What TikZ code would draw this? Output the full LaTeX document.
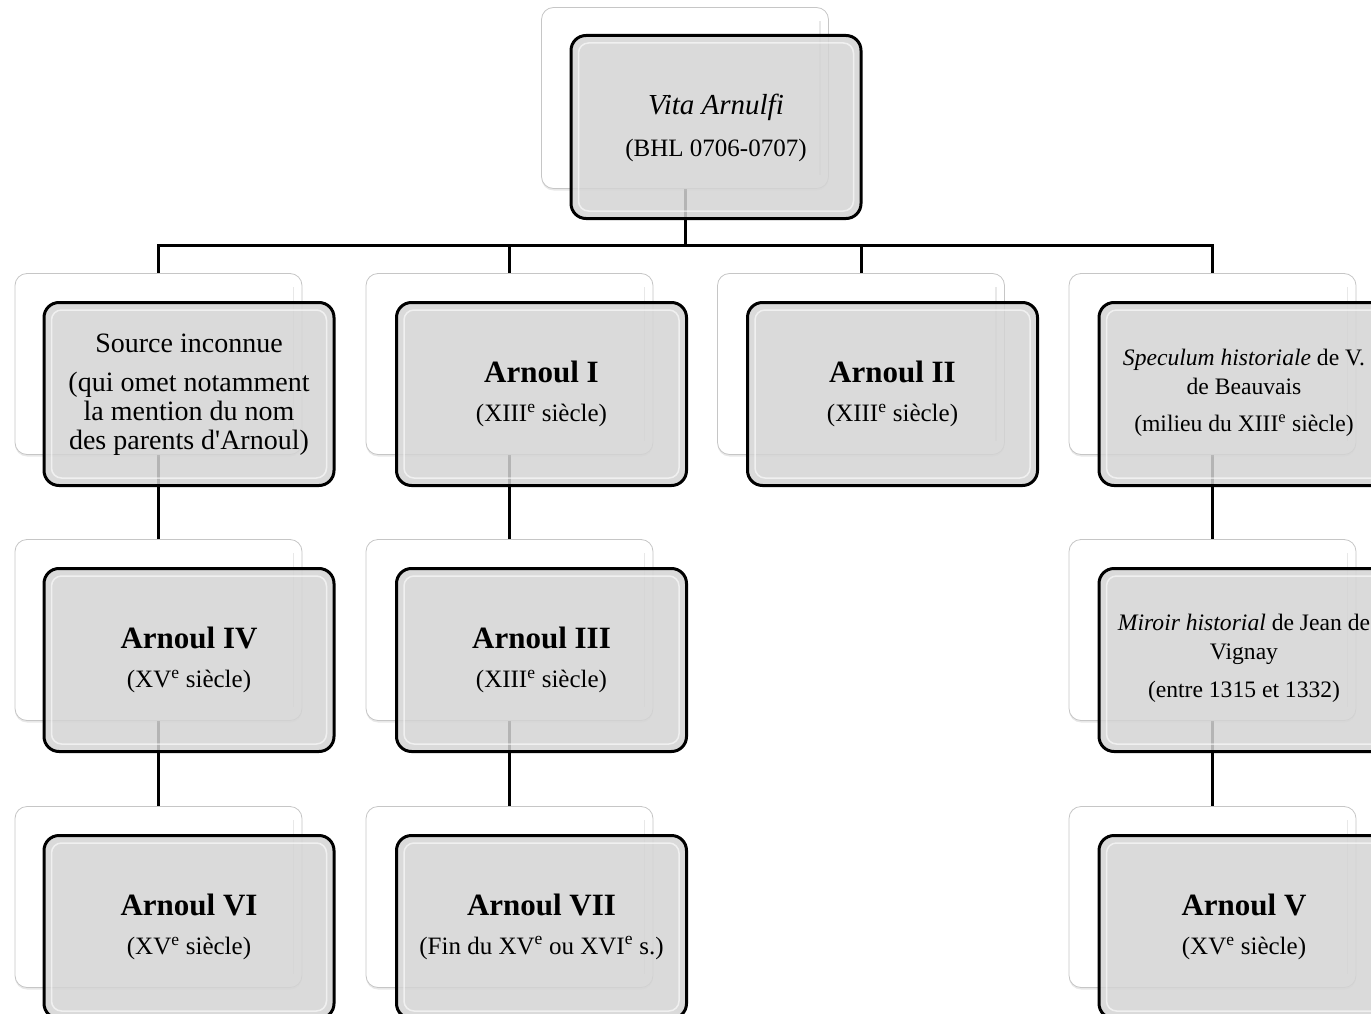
\documentclass[tikz,border=0pt]{standalone}
\usepackage{fontspec}
\setmainfont{Liberation Serif}
\usetikzlibrary{shadows,calc}
\pgfdeclarelayer{bg}
\pgfsetlayers{bg,main}
\tikzset{
  backbox/.style={rectangle, rounded corners=12pt, draw=gray!45, line width=0.8pt, fill=white,
    minimum width=287pt, minimum height=181pt, inner sep=0pt,
    drop shadow={opacity=0.18, shadow xshift=0pt, shadow yshift=-2pt}},
  frontbox/.style={rectangle, rounded corners=15pt, draw=black, line width=3pt, fill=black!17,
    fill opacity=0.85, text opacity=1, minimum width=290pt, minimum height=183pt, inner sep=0pt},
  conn/.style={line width=3pt, draw=black},
  ttl/.style={font=\fontsize{31}{36}\selectfont\bfseries, inner sep=0pt},
  subt/.style={font=\fontsize{25}{29}\selectfont, inner sep=0pt},
  body/.style={font=\fontsize{28}{29}\selectfont, inner sep=0pt, align=center},
  small/.style={font=\fontsize{23.6}{29}\selectfont, inner sep=0pt, align=center},
  bevel/.style={draw=white, line width=1.5pt, draw opacity=0.6, rounded corners=10pt},
  backbevel/.style={draw=gray!18, line width=1.2pt}
}
\newcommand\mkbox[5]{% name, back x, back y, front x, front y
  \node[backbox] (b#1) at (#2,#3) {};
  \draw[backbevel] ([shift={(-9pt,-14pt)}]b#1.north east) -- ([shift={(-9pt,14pt)}]b#1.south east);
  \node[frontbox] (f#1) at (#4,#5) {};
  \draw[bevel] ([shift={(9pt,-9pt)}]f#1.north west) rectangle ([shift={(-9pt,9pt)}]f#1.south east);
}
\newcommand\twoline[3]{% name, title, subtitle
  \node[ttl] (t#1a) at ([yshift=22pt]f#1.center) {#2};
  \node[subt] (t#1b) at ([yshift=-21pt]f#1.center) {#3};
}
\newcommand\sx[1]{\textsuperscript{#1}}
\begin{document}
\begin{tikzpicture}[x=1pt,y=-1pt]
\useasboundingbox (0,0) rectangle (1371,1014);
\clip (0,0) rectangle (1371,1014);

% boxes
\mkbox{top}{685}{98}{716}{127}
\mkbox{11}{158.5}{364}{189}{394}
\mkbox{12}{509.5}{364}{541.5}{394}
\mkbox{13}{861}{364}{892.5}{394}
\mkbox{14}{1212.5}{364}{1244}{394}
\mkbox{21}{158.5}{630}{189}{660}
\mkbox{22}{509.5}{630}{541.5}{660}
\mkbox{24}{1212.5}{630}{1244}{660}
\mkbox{31}{158.5}{897}{189}{927}
\mkbox{32}{509.5}{897}{541.5}{927}
\mkbox{34}{1212.5}{897}{1244}{927}

% connectors
\begin{pgfonlayer}{bg}
\coordinate (j) at (685,245);
\draw[conn] (btop.center) -- (j);
\draw[conn] (j) -| (b11.center);
\draw[conn] (j) -| (b12.center);
\draw[conn] (j) -| (b13.center);
\draw[conn] (j) -| (b14.center);
\draw[conn] (b11.center) -- (b21.center);
\draw[conn] (b21.center) -- (b31.center);
\draw[conn] (b12.center) -- (b22.center);
\draw[conn] (b22.center) -- (b32.center);
\draw[conn] (b14.center) -- (b24.center);
\draw[conn] (b24.center) -- (b34.center);
\end{pgfonlayer}

% texts
\node[font=\fontsize{29}{34}\selectfont\itshape, inner sep=0pt] (ttopa) at ([yshift=20pt]ftop.center) {Vita Arnulfi};
\node[font=\fontsize{25}{30}\selectfont, inner sep=0pt] (ttopb) at ([yshift=-23pt]ftop.center) {(BHL 0706-0707)};

\node[body] (t11a) at ([yshift=51pt]f11.center) {Source inconnue};
\node[body] (t11b) at ([yshift=-20pt]f11.center) {(qui omet notamment\\la mention du nom\\des parents d\textquotesingle Arnoul)};

\twoline{12}{Arnoul I}{(XIII\sx{e} siècle)}
\twoline{13}{Arnoul II}{(XIII\sx{e} siècle)}

\node[small] (t14a) at ([yshift=22.5pt]f14.center) {\textit{Speculum historiale} de V.\\de Beauvais};
\node[small] (t14b) at ([yshift=-32pt]f14.center) {(milieu du XIII\sx{e} siècle)};

\twoline{21}{Arnoul IV}{(XV\sx{e} siècle)}
\twoline{22}{Arnoul III}{(XIII\sx{e} siècle)}

\node[small] (t24a) at ([yshift=20.5pt]f24.center) {\textit{Miroir historial} de Jean de\\Vignay};
\node[small] (t24b) at ([yshift=-32pt]f24.center) {(entre 1315 et 1332)};

\twoline{31}{Arnoul VI}{(XV\sx{e} siècle)}
\twoline{32}{Arnoul VII}{(Fin du XV\sx{e} ou XVI\sx{e} s.)}
\twoline{34}{Arnoul V}{(XV\sx{e} siècle)}
\end{tikzpicture}
\end{document}
